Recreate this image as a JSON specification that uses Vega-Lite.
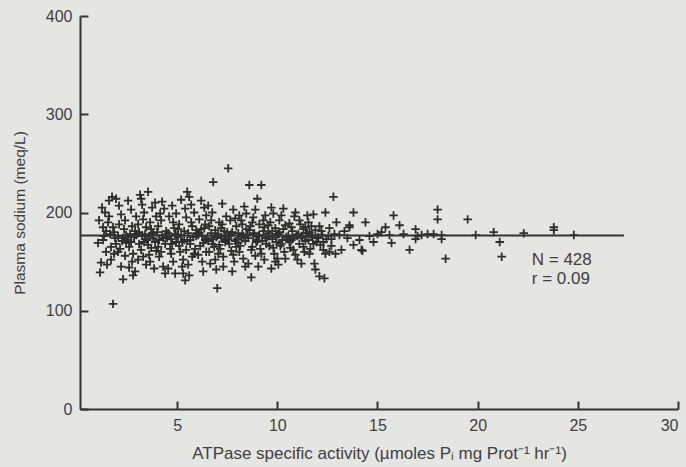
{
  "$schema": "https://vega.github.io/schema/vega-lite/v6.json",
  "width": 598,
  "height": 393,
  "autosize": {"type": "none"},
  "padding": {"left": 80, "top": 16, "right": 8, "bottom": 58},
  "background": "#e5e5e3",
  "config": {
    "view": {"stroke": null},
    "font": "Liberation Sans",
    "axis": {"grid": false, "domainColor": "#333333", "domainWidth": 2, "tickColor": "#333333", "tickWidth": 2, "labelColor": "#404040", "titleColor": "#404040", "labelFont": "Liberation Sans", "titleFont": "Liberation Sans", "titleFontWeight": "normal"}
  },
  "datasets": {
    "pts": [
      {"a":1.05,"s":169},{"a":1.1,"s":192},{"a":1.15,"s":139},{"a":1.2,"s":149},{"a":1.25,"s":205},{"a":1.3,"s":185},{"a":1.35,"s":176},{"a":1.4,"s":200},{"a":1.45,"s":160},{"a":1.5,"s":147},{"a":1.3,"s":172},{"a":1.45,"s":181},
      {"a":1.55,"s":190},{"a":1.6,"s":212},{"a":1.65,"s":178},{"a":1.7,"s":165},{"a":1.75,"s":216},{"a":1.8,"s":107},{"a":1.8,"s":185},{"a":1.85,"s":158},{"a":1.9,"s":174},{"a":1.95,"s":214},{"a":1.6,"s":196},{"a":1.7,"s":152},{"a":1.85,"s":180},{"a":1.95,"s":168},
      {"a":2.05,"s":176},{"a":2.1,"s":188},{"a":2.15,"s":163},{"a":2.2,"s":198},{"a":2.25,"s":171},{"a":2.3,"s":132},{"a":2.35,"s":183},{"a":2.4,"s":156},{"a":2.45,"s":177},{"a":2.1,"s":207},{"a":2.2,"s":145},{"a":2.3,"s":174},{"a":2.4,"s":192},{"a":2.45,"s":169},{"a":2.05,"s":160},
      {"a":2.55,"s":212},{"a":2.6,"s":144},{"a":2.65,"s":178},{"a":2.7,"s":170},{"a":2.75,"s":186},{"a":2.8,"s":136},{"a":2.85,"s":175},{"a":2.9,"s":140},{"a":2.95,"s":196},{"a":2.6,"s":165},{"a":2.7,"s":203},{"a":2.8,"s":158},{"a":2.9,"s":181},{"a":2.55,"s":172},{"a":2.75,"s":150},{"a":2.95,"s":177},
      {"a":3.05,"s":188},{"a":3.1,"s":168},{"a":3.15,"s":218},{"a":3.2,"s":214},{"a":3.25,"s":176},{"a":3.3,"s":155},{"a":3.35,"s":200},{"a":3.4,"s":173},{"a":3.45,"s":147},{"a":3.1,"s":180},{"a":3.2,"s":162},{"a":3.3,"s":193},{"a":3.4,"s":178},{"a":3.05,"s":152},{"a":3.25,"s":208},{"a":3.35,"s":170},{"a":3.45,"s":185},
      {"a":3.55,"s":221},{"a":3.6,"s":176},{"a":3.65,"s":190},{"a":3.7,"s":164},{"a":3.75,"s":205},{"a":3.8,"s":179},{"a":3.85,"s":143},{"a":3.9,"s":170},{"a":3.95,"s":196},{"a":3.6,"s":157},{"a":3.7,"s":183},{"a":3.8,"s":174},{"a":3.9,"s":210},{"a":3.55,"s":167},{"a":3.65,"s":150},{"a":3.75,"s":177},{"a":3.95,"s":161},
      {"a":4.05,"s":186},{"a":4.1,"s":172},{"a":4.15,"s":199},{"a":4.2,"s":160},{"a":4.25,"s":177},{"a":4.3,"s":145},{"a":4.35,"s":204},{"a":4.4,"s":168},{"a":4.45,"s":181},{"a":4.1,"s":155},{"a":4.2,"s":192},{"a":4.3,"s":174},{"a":4.4,"s":138},{"a":4.05,"s":165},{"a":4.25,"s":211},{"a":4.45,"s":176},
      {"a":4.55,"s":179},{"a":4.6,"s":196},{"a":4.65,"s":163},{"a":4.7,"s":173},{"a":4.75,"s":207},{"a":4.8,"s":150},{"a":4.85,"s":184},{"a":4.9,"s":138},{"a":4.95,"s":170},{"a":4.6,"s":176},{"a":4.7,"s":158},{"a":4.8,"s":190},{"a":4.9,"s":178},{"a":4.55,"s":143},{"a":4.75,"s":168},{"a":4.95,"s":199},
      {"a":5.05,"s":175},{"a":5.1,"s":188},{"a":5.15,"s":160},{"a":5.2,"s":213},{"a":5.25,"s":170},{"a":5.3,"s":138},{"a":5.35,"s":181},{"a":5.4,"s":131},{"a":5.45,"s":195},{"a":5.1,"s":166},{"a":5.2,"s":177},{"a":5.3,"s":152},{"a":5.4,"s":204},{"a":5.05,"s":183},{"a":5.25,"s":145},{"a":5.35,"s":172},{"a":5.45,"s":162},
      {"a":5.5,"s":221},{"a":5.55,"s":179},{"a":5.6,"s":216},{"a":5.6,"s":136},{"a":5.65,"s":168},{"a":5.7,"s":190},{"a":5.75,"s":155},{"a":5.8,"s":175},{"a":5.85,"s":200},{"a":5.9,"s":163},{"a":5.95,"s":182},{"a":5.55,"s":147},{"a":5.65,"s":172},{"a":5.75,"s":186},{"a":5.85,"s":158},{"a":5.95,"s":176},{"a":5.7,"s":208},
      {"a":6.05,"s":177},{"a":6.1,"s":193},{"a":6.15,"s":166},{"a":6.2,"s":183},{"a":6.25,"s":150},{"a":6.3,"s":140},{"a":6.35,"s":205},{"a":6.4,"s":172},{"a":6.45,"s":160},{"a":6.1,"s":179},{"a":6.2,"s":212},{"a":6.3,"s":169},{"a":6.4,"s":188},{"a":6.05,"s":157},{"a":6.25,"s":176},{"a":6.35,"s":184},{"a":6.45,"s":197},
      {"a":6.55,"s":171},{"a":6.6,"s":186},{"a":6.65,"s":148},{"a":6.7,"s":179},{"a":6.75,"s":200},{"a":6.8,"s":231},{"a":6.85,"s":165},{"a":6.9,"s":152},{"a":6.95,"s":175},{"a":6.6,"s":160},{"a":6.7,"s":192},{"a":6.8,"s":173},{"a":6.9,"s":182},{"a":6.55,"s":207},{"a":6.75,"s":168},{"a":6.95,"s":142},{"a":7.0,"s":123},
      {"a":7.05,"s":178},{"a":7.1,"s":190},{"a":7.15,"s":163},{"a":7.2,"s":174},{"a":7.25,"s":209},{"a":7.3,"s":155},{"a":7.35,"s":181},{"a":7.4,"s":170},{"a":7.45,"s":196},{"a":7.1,"s":167},{"a":7.2,"s":184},{"a":7.3,"s":145},{"a":7.4,"s":176},{"a":7.05,"s":158},{"a":7.25,"s":188},{"a":7.45,"s":172},
      {"a":7.55,"s":245},{"a":7.6,"s":176},{"a":7.65,"s":192},{"a":7.7,"s":161},{"a":7.75,"s":180},{"a":7.8,"s":203},{"a":7.85,"s":150},{"a":7.9,"s":171},{"a":7.95,"s":186},{"a":7.6,"s":168},{"a":7.7,"s":178},{"a":7.8,"s":157},{"a":7.9,"s":194},{"a":7.55,"s":173},{"a":7.75,"s":140},{"a":7.95,"s":165},
      {"a":8.05,"s":179},{"a":8.1,"s":197},{"a":8.15,"s":166},{"a":8.2,"s":175},{"a":8.25,"s":188},{"a":8.3,"s":153},{"a":8.35,"s":206},{"a":8.4,"s":171},{"a":8.45,"s":183},{"a":8.1,"s":160},{"a":8.2,"s":192},{"a":8.3,"s":176},{"a":8.4,"s":145},{"a":8.05,"s":169},{"a":8.25,"s":178},{"a":8.45,"s":199},
      {"a":8.55,"s":174},{"a":8.6,"s":228},{"a":8.65,"s":186},{"a":8.7,"s":134},{"a":8.75,"s":165},{"a":8.8,"s":195},{"a":8.85,"s":179},{"a":8.9,"s":156},{"a":8.95,"s":170},{"a":8.6,"s":182},{"a":8.7,"s":162},{"a":8.8,"s":177},{"a":8.9,"s":203},{"a":8.55,"s":148},{"a":8.75,"s":190},{"a":8.95,"s":172},
      {"a":9.0,"s":214},{"a":9.05,"s":176},{"a":9.1,"s":188},{"a":9.15,"s":163},{"a":9.2,"s":228},{"a":9.25,"s":171},{"a":9.3,"s":181},{"a":9.35,"s":152},{"a":9.4,"s":197},{"a":9.45,"s":168},{"a":9.1,"s":177},{"a":9.2,"s":158},{"a":9.3,"s":192},{"a":9.4,"s":174},{"a":9.05,"s":145},{"a":9.35,"s":185},
      {"a":9.55,"s":179},{"a":9.6,"s":166},{"a":9.65,"s":190},{"a":9.7,"s":143},{"a":9.75,"s":173},{"a":9.8,"s":199},{"a":9.85,"s":158},{"a":9.9,"s":184},{"a":9.95,"s":170},{"a":9.6,"s":176},{"a":9.7,"s":205},{"a":9.8,"s":164},{"a":9.9,"s":150},{"a":9.55,"s":187},{"a":9.75,"s":181},{"a":9.95,"s":175},
      {"a":10.0,"s":153},{"a":10.05,"s":178},{"a":10.1,"s":192},{"a":10.15,"s":166},{"a":10.2,"s":197},{"a":10.25,"s":172},{"a":10.3,"s":183},{"a":10.35,"s":160},{"a":10.4,"s":153},{"a":10.45,"s":175},{"a":10.1,"s":180},{"a":10.2,"s":168},{"a":10.3,"s":204},{"a":10.4,"s":187},{"a":10.05,"s":147},
      {"a":10.55,"s":176},{"a":10.6,"s":189},{"a":10.65,"s":164},{"a":10.7,"s":172},{"a":10.75,"s":181},{"a":10.8,"s":162},{"a":10.85,"s":196},{"a":10.9,"s":157},{"a":10.95,"s":177},{"a":10.6,"s":170},{"a":10.7,"s":185},{"a":10.8,"s":174},{"a":10.9,"s":200},{"a":11.0,"s":152},
      {"a":11.05,"s":178},{"a":11.1,"s":168},{"a":11.15,"s":188},{"a":11.2,"s":148},{"a":11.25,"s":174},{"a":11.3,"s":183},{"a":11.35,"s":160},{"a":11.4,"s":171},{"a":11.45,"s":179},{"a":11.5,"s":197},{"a":11.1,"s":192},{"a":11.2,"s":176},{"a":11.3,"s":165},{"a":11.4,"s":185},
      {"a":11.55,"s":172},{"a":11.6,"s":180},{"a":11.65,"s":163},{"a":11.7,"s":186},{"a":11.75,"s":175},{"a":11.8,"s":198},{"a":11.85,"s":148},{"a":11.9,"s":142},{"a":11.95,"s":170},{"a":11.6,"s":158},{"a":11.7,"s":177},{"a":11.8,"s":168},{"a":11.9,"s":182},{"a":11.55,"s":190},
      {"a":12.05,"s":175},{"a":12.1,"s":135},{"a":12.15,"s":167},{"a":12.2,"s":181},{"a":12.3,"s":162},{"a":12.35,"s":133},{"a":12.4,"s":200},{"a":12.45,"s":173},{"a":12.1,"s":186},{"a":12.25,"s":177},{"a":12.4,"s":158},{"a":12.3,"s":170},
      {"a":12.55,"s":176},{"a":12.6,"s":184},{"a":12.7,"s":166},{"a":12.8,"s":216},{"a":12.85,"s":178},{"a":12.9,"s":158},{"a":12.95,"s":190},{"a":12.7,"s":173},{"a":12.6,"s":160},
      {"a":13.1,"s":177},{"a":13.2,"s":162},{"a":13.35,"s":181},{"a":13.5,"s":174},{"a":13.6,"s":187},{"a":13.6,"s":185},{"a":13.8,"s":200},{"a":13.8,"s":167},{"a":14.1,"s":172},{"a":14.2,"s":162},{"a":14.25,"s":161},{"a":14.4,"s":190},
      {"a":14.6,"s":176},{"a":14.8,"s":170},{"a":15.0,"s":178},{"a":15.2,"s":180},{"a":15.4,"s":185},{"a":15.6,"s":177},{"a":15.7,"s":169},{"a":15.8,"s":197},{"a":16.1,"s":187},{"a":16.3,"s":178},{"a":16.6,"s":162},{"a":16.9,"s":183},{"a":16.9,"s":173},{"a":17.2,"s":177},{"a":17.5,"s":178},{"a":17.8,"s":178},{"a":18.0,"s":203},{"a":18.0,"s":193},{"a":18.2,"s":177},{"a":18.2,"s":173},{"a":18.4,"s":153},{"a":17.0,"s":176},
      {"a":19.5,"s":193},{"a":19.9,"s":177},{"a":20.8,"s":180},{"a":21.1,"s":170},{"a":21.2,"s":155},{"a":22.3,"s":179},{"a":23.8,"s":185},{"a":23.8,"s":182},{"a":24.8,"s":177},
      {"a":2.5,"s":175},{"a":3.0,"s":178},{"a":3.5,"s":172},{"a":4.0,"s":180},{"a":4.5,"s":174},{"a":5.0,"s":177},{"a":5.5,"s":171},{"a":6.0,"s":179},{"a":6.5,"s":174},{"a":7.0,"s":176},{"a":7.5,"s":180},{"a":8.0,"s":173},{"a":8.5,"s":177},{"a":9.0,"s":171},{"a":9.5,"s":175},{"a":10.0,"s":178},{"a":10.5,"s":173},{"a":11.0,"s":176},{"a":11.5,"s":179},{"a":12.0,"s":174}
    ],
    "fit": [{"a": 0.15, "s": 176.5}, {"a": 27.3, "s": 176.5}],
    "notes": [{"a": 22.7, "s": 147, "t": "N = 428"}, {"a": 22.7, "s": 127, "t": "r = 0.09"}]
  },
  "layer": [
    {
      "data": {"name": "pts"},
      "mark": {"type": "point", "shape": "M-1,0H1M0,-1V1", "filled": false, "size": 72, "stroke": "#2e2e2e", "strokeWidth": 1.8, "opacity": 1},
      "encoding": {
        "x": {"field": "a", "type": "quantitative", "scale": {"domain": [0.15, 30], "nice": false, "zero": false},
          "axis": {"values": [5, 10, 15, 20, 25, 30], "tickSize": -8, "labelPadding": 16, "labelFontSize": 16, "title": "ATPase specific activity (µmoles Pᵢ mg Prot⁻¹ hr⁻¹)", "titleFontSize": 17, "titlePadding": 12}},
        "y": {"field": "s", "type": "quantitative", "scale": {"domain": [0, 400], "nice": false},
          "axis": {"values": [0, 100, 200, 300, 400], "tickSize": -8, "labelPadding": 16, "labelFontSize": 16, "title": "Plasma sodium (meq/L)", "titleFontSize": 15.5, "titlePadding": 18}}
      }
    },
    {
      "data": {"name": "fit"},
      "mark": {"type": "line", "stroke": "#333333", "strokeWidth": 2},
      "encoding": {"x": {"field": "a", "type": "quantitative"}, "y": {"field": "s", "type": "quantitative"}}
    },
    {
      "data": {"name": "notes"},
      "mark": {"type": "text", "align": "left", "baseline": "alphabetic", "fontSize": 17, "font": "Liberation Sans", "color": "#404040"},
      "encoding": {"x": {"field": "a", "type": "quantitative"}, "y": {"field": "s", "type": "quantitative"}, "text": {"field": "t"}}
    }
  ]
}
